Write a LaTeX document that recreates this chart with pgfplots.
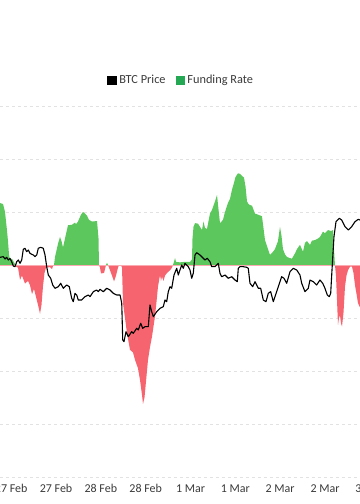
\documentclass[border=0pt]{standalone}
\usepackage{fontspec}
\setmainfont{Carlito}
\usepackage{pgfplots}
\usepackage{pgfplotstable}
\pgfplotsset{compat=1.18}
\definecolor{fgreen}{HTML}{5CC75C}
\definecolor{fred}{HTML}{F6646F}
\definecolor{legreen}{HTML}{24A854}
\definecolor{gridc}{HTML}{E2E2E2}
\definecolor{txt}{HTML}{3A3A3A}

% funding rate (%), hours since 27 Feb 00:00
\pgfplotstableread{
h fr
-3.00 0.0117
-2.19 0.0115
-1.66 0.0100
-1.20 0.0070
-0.86 0.0045
-0.59 0.0020
-0.32 0.0010
0.21 0.0012
0.48 0.0008
1.02 0.0002
1.28 -0.0003
1.82 -0.0005
2.36 -0.0028
2.89 -0.0020
3.69 -0.0035
4.50 -0.0030
5.03 -0.0038
5.57 -0.0055
6.10 -0.0045
6.64 -0.0060
7.17 -0.0075
7.71 -0.0092
8.11 -0.0075
8.51 -0.0040
8.91 -0.0015
9.31 -0.0005
10.39 -0.0004
10.92 -0.0008
11.19 -0.0002
11.46 0
11.72 0.0015
12.53 0.0040
13.06 0.0053
13.46 0.0045
13.87 0.0033
14.40 0.0050
15.20 0.0075
16.28 0.0076
17.08 0.0080
17.35 0.0077
17.88 0.0082
18.68 0.0095
19.22 0.0100
19.75 0.0097
20.29 0.0093
20.82 0.0085
21.63 0.0082
22.97 0.0083
23.37 0.0050
23.50 0
23.77 -0.0005
24.04 -0.0016
24.84 -0.0015
25.11 -0.0008
25.37 0
25.64 0.0004
25.91 0
26.45 -0.0010
26.98 -0.0020
27.52 -0.0031
28.05 -0.0020
28.59 -0.0005
28.86 0
29.39 0
29.66 -0.0005
29.93 -0.0072
30.46 -0.0100
31.00 -0.0129
31.80 -0.0160
32.60 -0.0165
33.14 -0.0179
33.94 -0.0195
34.48 -0.0217
35.01 -0.0245
35.28 -0.0262
35.68 -0.0250
36.08 -0.0220
36.62 -0.0179
37.15 -0.0155
37.69 -0.0135
38.49 -0.0097
38.89 -0.0070
39.29 -0.0041
39.83 -0.0019
40.10 -0.0030
40.36 -0.0022
40.77 -0.0030
41.17 -0.0020
41.70 -0.0015
42.51 -0.0010
43.04 -0.0005
43.31 0
43.58 0.0006
43.85 0.0013
44.11 0.0006
45.18 0.0005
46.52 0.0006
47.86 0.0006
48.39 0.0010
48.53 0.0050
48.80 0.0072
49.20 0.0079
50.00 0.0078
50.54 0.0072
51.07 0.0066
51.47 0.0082
51.87 0.0070
52.41 0.0068
53.21 0.0097
53.75 0.0104
54.55 0.0120
55.09 0.0132
55.49 0.0105
55.89 0.0079
56.69 0.0085
57.23 0.0100
58.03 0.0117
58.57 0.0125
59.10 0.0142
59.64 0.0155
60.04 0.0166
60.71 0.0173
61.24 0.0172
61.78 0.0168
62.31 0.0165
62.72 0.0148
63.12 0.0120
63.52 0.0115
63.92 0.0113
64.46 0.0112
65.26 0.0097
66.06 0.0095
67.13 0.0092
67.94 0.0047
68.74 0.0030
69.27 0.0019
70.08 0.0025
70.61 0.0030
71.41 0.0045
71.95 0.0072
72.35 0.0055
72.75 0.0030
73.29 0.0020
73.82 0.0015
74.63 0.0013
75.16 0.0012
75.97 0.0022
76.50 0.0030
77.30 0.0038
78.11 0.0025
78.64 0.0042
79.18 0.0045
79.98 0.0038
80.52 0.0046
81.32 0.0047
82.12 0.0050
82.66 0.0053
83.46 0.0063
83.99 0.0060
84.80 0.0066
85.60 0.0064
86.14 0.0066
86.40 0.0030
86.67 0
86.94 -0.0020
87.21 -0.0066
87.48 -0.0113
87.74 -0.0100
88.01 -0.0095
88.28 -0.0110
88.55 -0.0116
88.95 -0.0090
89.35 -0.0041
89.75 -0.0020
90.15 -0.0010
90.69 -0.0003
91.22 -0.0003
91.62 -0.0015
92.03 -0.0038
92.56 -0.0060
92.83 -0.0072
93.36 -0.0080
}\funding

% BTC price (thousand USD)
\pgfplotstableread{
h p
-3.00 90.77
-2.11 90.83
-1.66 90.60
-1.20 90.77
-0.78 90.50
-0.32 90.67
0.13 90.33
0.56 89.90
1.02 89.83
1.47 90.33
1.90 90.50
2.36 90.17
2.81 90.50
3.24 91.57
3.69 91.67
4.15 91.33
4.58 91.50
5.03 91.17
5.49 91.07
5.92 91.00
6.37 90.83
6.83 91.00
7.25 91.67
7.90 91.77
8.59 91.67
9.05 91.00
9.50 89.83
9.93 89.00
10.57 88.67
11.11 88.00
11.72 87.67
12.61 87.83
13.25 88.17
13.95 87.67
14.86 88.00
15.55 87.83
16.19 86.67
16.62 86.33
17.08 87.17
17.53 87.00
17.96 86.50
18.87 86.50
19.75 86.83
20.64 87.00
21.09 86.83
21.98 87.33
22.89 87.50
23.31 87.33
23.77 87.57
24.65 87.33
25.56 87.67
26.45 87.50
27.33 87.17
28.24 87.00
29.14 87.00
29.59 86.17
29.85 82.50
30.19 82.33
30.73 83.33
31.34 82.83
32.25 83.33
32.68 83.17
33.59 83.67
34.02 83.50
34.66 84.17
35.20 83.67
35.81 83.83
36.70 83.83
37.15 86.00
37.61 85.33
38.04 84.83
38.95 85.33
39.83 85.67
40.71 85.83
41.17 86.50
41.62 86.33
42.05 87.33
42.51 87.83
42.96 87.67
43.58 89.00
44.30 89.67
44.73 89.00
45.18 89.50
45.64 90.00
46.07 89.67
46.52 90.17
47.40 89.83
47.86 89.50
48.31 88.67
48.74 89.17
49.20 91.00
49.65 91.23
50.53 91.00
50.99 90.83
51.87 90.50
52.49 90.67
53.21 90.33
53.67 89.83
54.55 89.83
55.43 90.17
55.89 89.17
56.34 88.83
57.23 89.00
58.11 88.67
59.02 88.83
59.90 88.50
60.52 88.33
60.79 89.67
61.24 89.83
62.13 89.83
63.04 89.77
63.46 89.67
63.92 88.17
64.64 87.83
65.26 88.33
66.14 87.67
66.78 87.67
67.48 86.50
68.20 86.33
68.82 87.17
69.46 87.33
70.16 86.33
70.61 86.83
71.49 87.83
72.40 88.83
73.02 88.67
73.74 88.17
74.63 89.33
75.51 89.67
76.42 89.50
77.30 89.00
77.76 88.17
78.64 87.33
79.52 87.67
79.98 88.50
80.86 88.33
81.77 88.00
82.65 88.50
83.38 88.17
83.99 87.67
84.61 87.00
85.15 86.83
85.52 87.17
85.87 89.50
86.40 92.83
86.94 94.33
87.82 94.67
88.46 94.50
89.35 93.83
90.23 93.50
91.14 93.83
92.03 94.33
92.91 94.57
93.36 94.50
}\price

\begin{document}
\begin{tikzpicture}
\pgfplotsset{base/.style={
  scale only axis, width=380bp, height=371bp,
  xmin=-3.0, xmax=98.72,
  axis line style={draw=none}, major tick length=0pt,
  xtick={0,12,24,36,48,60,72,84,96},
  xticklabels={27 Feb,27 Feb,28 Feb,28 Feb,1 Mar,1 Mar,2 Mar,2 Mar,3 Mar},
  xticklabel style={font=\fontsize{12bp}{14bp}\selectfont, text=txt, anchor=center, yshift=-11.7bp},
  scaled y ticks=false,
}}
\begin{axis}[base,
  ymin=-0.04, ymax=0.03,
  ytick={-0.04,-0.03,-0.02,-0.01,0,0.01,0.02,0.03},
  yticklabels={},
  ymajorgrids,
  grid style={gridc, dash pattern=on 3bp off 3bp, line width=0.6bp},
  legend columns=2,
  legend style={at={(0.4768,1.0695)}, anchor=center, draw=none, fill=none,
    font=\fontsize{12.3bp}{14bp}\selectfont, text=txt,
    /tikz/every even column/.append style={column sep=8bp}},
]
\addlegendimage{legend image code/.code={\fill[black] (0bp,-4.2bp) rectangle (8.4bp,4.2bp); \path (9.5bp,0);}}
\addlegendentry{BTC Price}
\addlegendimage{legend image code/.code={\fill[legreen] (0bp,-4.2bp) rectangle (8.4bp,4.2bp); \path (9.5bp,0);}}
\addlegendentry{Funding Rate}
\addplot[draw=none, fill=fgreen, forget plot, y filter/.expression={max(y,0)}] table[x=h, y=fr] {\funding} \closedcycle;
\addplot[draw=none, fill=fred, forget plot, y filter/.expression={min(y,0)}] table[x=h, y=fr] {\funding} \closedcycle;
\addplot[draw=fred!55, line width=0.6bp, forget plot] coordinates {(-3,0) (98.72,0)};
\end{axis}
\begin{axis}[base, ymin=68.8, ymax=105.9, ytick=\empty, xticklabels={}]
\addplot[black, line width=1.1bp, line join=round] table[x=h, y=p] {\price};
\end{axis}
\pgfresetboundingbox
\path[use as bounding box] (0,-27bp) rectangle (360bp,477bp);
\end{tikzpicture}
\end{document}
